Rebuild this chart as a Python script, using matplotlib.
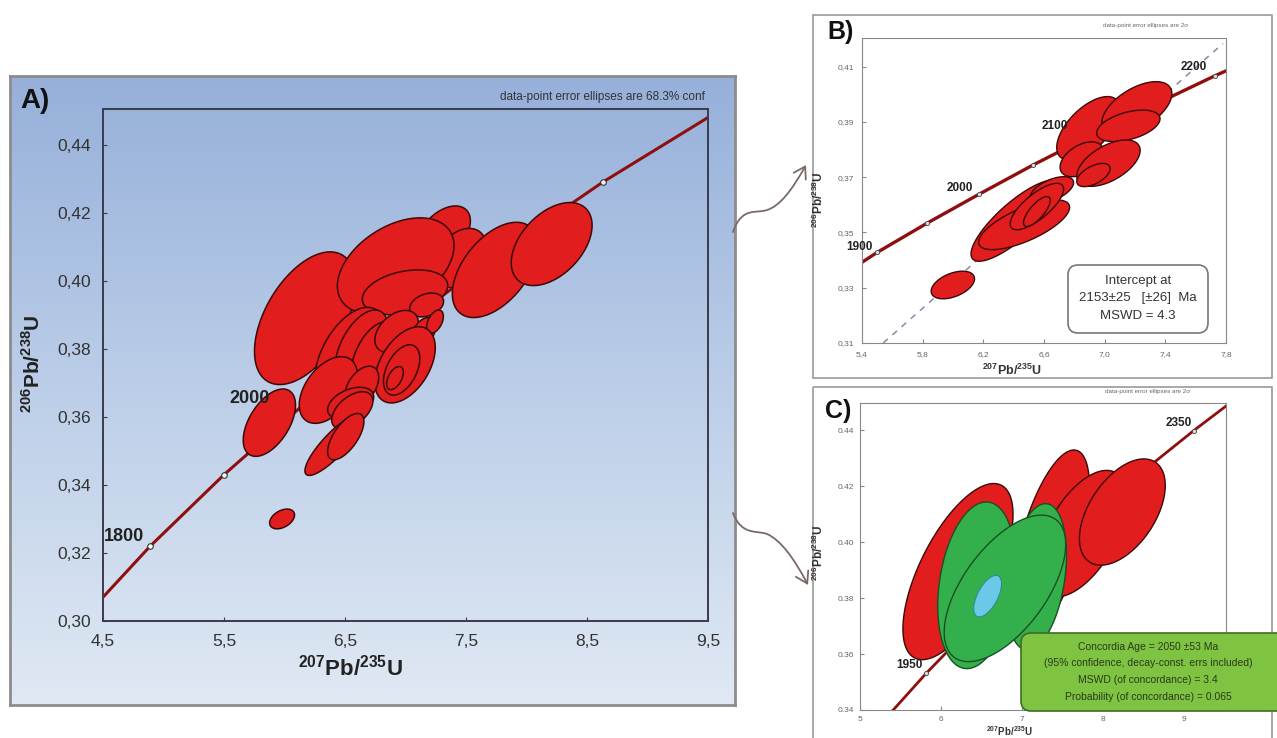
import numpy as np
import matplotlib
import matplotlib.pyplot as plt
from matplotlib.colors import LinearSegmentedColormap
from matplotlib.patches import Rectangle, FancyBboxPatch, FancyArrowPatch
from matplotlib.path import Path
from matplotlib.transforms import Affine2D

plt.rcParams["font.family"] = ["Liberation Sans", "DejaVu Sans"]
plt.rcParams["mathtext.fontset"] = "custom"
plt.rcParams["mathtext.rm"] = "Liberation Sans"
plt.rcParams["mathtext.bf"] = "Liberation Sans:bold"

W, H = 1277, 738

# ---------------- panel A data ----------------
a_xticks = [4.5, 5.5, 6.5, 7.5, 8.5, 9.5]
a_xticklabels = ["4,5", "5,5", "6,5", "7,5", "8,5", "9,5"]
a_yticks = [0.30, 0.32, 0.34, 0.36, 0.38, 0.40, 0.42, 0.44]
a_yticklabels = ["0,30", "0,32", "0,34", "0,36", "0,38", "0,40", "0,42", "0,44"]

a_conc_x = [4.5, 4.89, 5.50, 6.17, 6.91, 7.73, 8.63, 9.5]
a_conc_y = [0.307, 0.322, 0.343, 0.364, 0.385, 0.407, 0.429, 0.448]
a_tick_x = [4.89, 5.50, 8.63]
a_tick_y = [0.322, 0.343, 0.429]
a_age_labels = ["1800", "2000"]
a_age_x = [4.84, 5.88]
a_age_y = [0.3247, 0.3653]

# ellipses: centre, half-extent, error correlation (drawing order)
a_x = [6.169, 7.313, 7.450, 6.919, 7.740, 8.208, 6.996, 7.175,
       6.541, 6.638, 6.750, 6.927, 7.147, 7.244, 6.996, 6.968, 6.913,
       6.362, 6.638, 6.547, 6.560, 6.409, 6.506, 5.875, 5.980]
a_xe = [0.417, 0.223, 0.220, 0.482, 0.353, 0.334, 0.353, 0.140,
        0.290, 0.220, 0.200, 0.180, 0.100, 0.069, 0.250, 0.150, 0.069,
        0.240, 0.140, 0.190, 0.170, 0.240, 0.150, 0.216, 0.103]
a_y = [0.3890, 0.4140, 0.4067, 0.4044, 0.4032, 0.4108, 0.3966, 0.3929,
       0.3782, 0.3802, 0.3775, 0.3851, 0.3846, 0.3880, 0.3753, 0.3738, 0.3714,
       0.3679, 0.3689, 0.3640, 0.3619, 0.3518, 0.3542, 0.3583, 0.3300]
a_ye = [0.0195, 0.0080, 0.0087, 0.0141, 0.0140, 0.0122, 0.0066, 0.0035,
        0.0140, 0.0112, 0.0105, 0.0062, 0.0046, 0.0034, 0.0112, 0.0074, 0.0034,
        0.0098, 0.0060, 0.0047, 0.0055, 0.0090, 0.0068, 0.0099, 0.0029]
a_rho = [0.50, 0.45, 0.35, 0.42, 0.50, 0.45, 0.30, 0.30,
         0.50, 0.50, 0.45, 0.40, 0.40, 0.45, 0.45, 0.45, 0.50,
         0.45, 0.45, 0.40, 0.50, 0.85, 0.65, 0.52, 0.40]

# ---------------- panel B data ----------------
b_xticks = [5.4, 5.8, 6.2, 6.6, 7.0, 7.4, 7.8]
b_xticklabels = ["5,4", "5,8", "6,2", "6,6", "7,0", "7,4", "7,8"]
b_yticks = [0.31, 0.33, 0.35, 0.37, 0.39, 0.41]
b_yticklabels = ["0,31", "0,33", "0,35", "0,37", "0,39", "0,41"]

b_conc_x = [5.40, 5.50, 5.83, 6.17, 6.53, 6.91, 7.31, 7.73, 7.80]
b_conc_y = [0.3392, 0.3428, 0.3534, 0.3638, 0.3745, 0.3851, 0.3958, 0.4068, 0.4085]
b_tick_x = [5.50, 5.83, 6.17, 6.53, 7.73]
b_tick_y = [0.3428, 0.3534, 0.3638, 0.3745, 0.4068]
b_age_labels = ["1900", "2000", "2100", "2200"]
b_age_x = [5.468, 6.133, 6.759, 7.675]
b_age_y = [0.3448, 0.3661, 0.3886, 0.4099]
b_disc_x = [5.54, 7.78]
b_disc_y = [0.310, 0.4184]

b_x = [5.999, 6.893, 7.212, 7.156, 6.849, 7.025, 6.926,
       6.415, 6.469, 6.652, 6.553, 6.553]
b_xe = [0.143, 0.209, 0.231, 0.209, 0.143, 0.209, 0.110,
        0.296, 0.300, 0.143, 0.176, 0.088]
b_y = [0.3310, 0.3877, 0.3950, 0.3886, 0.3765, 0.3751, 0.3708,
       0.3543, 0.3528, 0.3654, 0.3594, 0.3576]
b_ye = [0.0050, 0.0115, 0.0096, 0.0057, 0.0063, 0.0084, 0.0042,
        0.0147, 0.0090, 0.0048, 0.0084, 0.0054]
b_rho = [0.45, 0.60, 0.55, 0.45, 0.45, 0.55, 0.55,
         0.82, 0.70, 0.55, 0.75, 0.75]

# ---------------- panel C data ----------------
c_xticks = [5, 6, 7, 8, 9]
c_xticklabels = ["5", "6", "7", "8", "9"]
c_yticks = [0.34, 0.36, 0.38, 0.40, 0.42, 0.44]
c_yticklabels = ["0.34", "0.36", "0.38", "0.40", "0.42", "0.44"]

c_conc_x = [5.41, 5.82, 6.53, 7.31, 8.17, 9.12, 9.52]
c_conc_y = [0.340, 0.3532, 0.3744, 0.3959, 0.4178, 0.4399, 0.4487]
c_tick_x = [5.82, 9.12]
c_tick_y = [0.3532, 0.4399]
c_age_labels = ["1950", "2350"]
c_age_x = [5.778, 9.10]
c_age_y = [0.3561, 0.4425]

c_red_x = [6.210, 7.354, 7.740, 8.240]
c_red_xe = [0.680, 0.480, 0.556, 0.530]
c_red_y = [0.3895, 0.3995, 0.4031, 0.4108]
c_red_ye = [0.0315, 0.0335, 0.0226, 0.0190]
c_red_rho = [0.65, 0.60, 0.55, 0.50]

c_green_x = [6.44, 7.18, 6.79]
c_green_xe = [0.48, 0.37, 0.75]
c_green_y = [0.3846, 0.3876, 0.3835]
c_green_ye = [0.0298, 0.0262, 0.0262]
c_green_rho = [0.25, 0.30, 0.60]

c_age_ell = [6.576, 0.171, 0.3807, 0.0074, 0.60]

RED = "#e11d1d"
RED_EDGE = "#3d0808"
CONC = "#8e0f0f"

fig = plt.figure(figsize=(W / 100, H / 100), dpi=100)
pix = Affine2D().scale(1 / W, -1 / H).translate(0, 1) + fig.transFigure


def px_axes(left, top, right, bottom, **kw):
    return fig.add_axes([left / W, 1 - bottom / H, (right - left) / W, (bottom - top) / H], **kw)


def ftext(x, y, s, **kw):
    return fig.text(x / W, 1 - y / H, s, **kw)


def draw_ellipses(ax, xs, xe, ys, ye, rho, face, edge, lw=1.0, z=3):
    t = np.linspace(0, 2 * np.pi, 160)
    for x0, ex, y0, ey, r in zip(xs, xe, ys, ye, rho):
        px = x0 + ex * np.cos(t)
        py = y0 + ey * (r * np.cos(t) + np.sqrt(1 - r * r) * np.sin(t))
        ax.fill(px, py, facecolor=face, edgecolor=edge, lw=lw, zorder=z)


def style_axes(ax, xt, xtl, yt, ytl, size, color, pad, spine):
    ax.set_xticks(xt)
    ax.set_xticklabels(xtl)
    ax.set_yticks(yt)
    ax.set_yticklabels(ytl)
    ax.tick_params(direction="in", length=3, labelsize=size, labelcolor=color,
                   color=spine, pad=pad)
    for s in ax.spines.values():
        s.set_color(spine)


lab206 = r"$^{\mathbf{206}}\mathbf{Pb/}^{\mathbf{238}}\mathbf{U}$"
lab207 = r"$^{\mathbf{207}}\mathbf{Pb/}^{\mathbf{235}}\mathbf{U}$"

# ---------------- panel A ----------------
bg = px_axes(10, 76, 735, 705)
grad = np.linspace(0, 1, 256)[:, None]
cmap = LinearSegmentedColormap.from_list("pan", ["#96b0da", "#bccee8", "#e0e9f4"])
bg.imshow(grad, aspect="auto", cmap=cmap, extent=[0, 1, 0, 1])
bg.set_xticks([])
bg.set_yticks([])
for s in bg.spines.values():
    s.set_color("#8c8c8c")
    s.set_linewidth(2)

axA = px_axes(103, 109, 708, 621)
axA.set_facecolor("none")
axA.set_xlim(4.5, 9.5)
axA.set_ylim(0.30, 0.4505)
style_axes(axA, a_xticks, a_xticklabels, a_yticks, a_yticklabels, 12.5, "#333333", 9, "#3a3a4a")
for s in axA.spines.values():
    s.set_linewidth(1.4)
axA.plot(a_conc_x, a_conc_y, color=CONC, lw=2.2, zorder=2)
axA.plot(a_tick_x, a_tick_y, "o", ms=4, mfc="white", mec="#333333", mew=0.8, zorder=2)
draw_ellipses(axA, a_x, a_xe, a_y, a_ye, a_rho, RED, RED_EDGE, lw=1.1)
for s, x, y in zip(a_age_labels, a_age_x, a_age_y):
    axA.text(x, y, s, ha="right", va="center", fontsize=13, fontweight="bold",
             color="#222222", zorder=5)

ftext(20, 101, "A)", fontsize=20, fontweight="bold", va="center", ha="left", color="#111111")
ftext(705, 97, "data-point error ellipses are 68.3% conf", fontsize=8.5, ha="right",
      va="center", color="#333333")
ftext(33, 364, lab206, fontsize=15, rotation=90, ha="center", va="center", color="#222222")
ftext(350, 668, lab207, fontsize=16, ha="center", va="center", color="#222222")

# ---------------- panel B ----------------
fig.patches.append(Rectangle((813, 15), 459, 363, transform=pix, fill=False,
                             ec="#9a9a9a", lw=1.2))
axB = px_axes(862, 38, 1226, 343)
axB.set_xlim(5.4, 7.8)
axB.set_ylim(0.31, 0.4204)
style_axes(axB, b_xticks, b_xticklabels, b_yticks, b_yticklabels, 6, "#666666", 6, "#888888")
axB.plot(b_disc_x, b_disc_y, color="#8a86a8", lw=1.1, ls=(0, (4, 4)), zorder=1)
axB.plot(b_conc_x, b_conc_y, color=CONC, lw=2.4, zorder=2)
axB.plot(b_tick_x, b_tick_y, "o", ms=3, mfc="#dddddd", mec="#444444", mew=0.6, zorder=2)
draw_ellipses(axB, b_x, b_xe, b_y, b_ye, b_rho, RED, RED_EDGE, lw=1.0)
for s, x, y in zip(b_age_labels, b_age_x, b_age_y):
    axB.text(x, y, s, ha="right", va="center", fontsize=8.5, fontweight="bold",
             color="#222222", zorder=5, clip_on=False)

ftext(827, 32, "B)", fontsize=18, fontweight="bold", va="center", ha="left", color="#111111")
ftext(1146, 25, "data-point error ellipses are 2\u03c3", fontsize=4.5, ha="center",
      va="center", color="#666666")
ftext(818, 200, lab206, fontsize=8.5, rotation=90, ha="center", va="center", color="#333333")
ftext(1012, 370, lab207, fontsize=9, ha="center", va="center", color="#333333")

fig.patches.append(FancyBboxPatch((1068, 265), 140, 68, transform=pix,
                                  boxstyle="round,pad=0,rounding_size=10",
                                  fc="white", ec="#777777", lw=1.2, zorder=5))
for s, y in zip(["Intercept at", "2153\u00b125   [\u00b126]  Ma", "MSWD = 4.3"], [281, 298, 316]):
    ftext(1138, y, s, fontsize=9.5, ha="center", va="center", color="#333333", zorder=6)

# ---------------- panel C ----------------
fig.patches.append(Rectangle((813, 387), 459, 360, transform=pix, fill=False,
                             ec="#9a9a9a", lw=1.2))
axC = px_axes(860, 403, 1226, 710)
axC.set_xlim(5, 9.52)
axC.set_ylim(0.34, 0.4498)
style_axes(axC, c_xticks, c_xticklabels, c_yticks, c_yticklabels, 6, "#666666", 4, "#888888")
axC.plot(c_conc_x, c_conc_y, color=CONC, lw=2.0, zorder=2)
axC.plot(c_tick_x, c_tick_y, "o", ms=3, mfc="#dddddd", mec="#444444", mew=0.6, zorder=2)
draw_ellipses(axC, c_red_x, c_red_xe, c_red_y, c_red_ye, c_red_rho, RED, RED_EDGE, lw=1.0)
draw_ellipses(axC, c_green_x, c_green_xe, c_green_y, c_green_ye, c_green_rho,
              "#33b04c", "#1a4f24", lw=1.0, z=4)
draw_ellipses(axC, [c_age_ell[0]], [c_age_ell[1]], [c_age_ell[2]], [c_age_ell[3]],
              [c_age_ell[4]], "#6cc8e8", "#2f7f9a", lw=0.6, z=5)
for s, x, y in zip(c_age_labels, c_age_x, c_age_y):
    axC.text(x, y, s, ha="right", va="center", fontsize=8.5, fontweight="bold",
             color="#222222", zorder=6, clip_on=False)

ftext(825, 411, "C)", fontsize=18, fontweight="bold", va="center", ha="left", color="#111111")
ftext(1148, 392, "data-point error ellipses are 2\u03c3", fontsize=4.5, ha="center",
      va="center", color="#666666")
ftext(818, 553, lab206, fontsize=8.5, rotation=90, ha="center", va="center", color="#333333")
ftext(1010, 731, lab207, fontsize=7, ha="center", va="center", color="#333333")

fig.patches.append(FancyBboxPatch((1021, 633), 270, 78, transform=pix,
                                  boxstyle="round,pad=0,rounding_size=10",
                                  fc="#7fc343", ec="#3f6d22", lw=1.2, zorder=7))
c_box = ["Concordia Age = 2050 \u00b153 Ma",
         "(95% confidence, decay-const. errs included)",
         "MSWD (of concordance) = 3.4",
         "Probability (of concordance) = 0.065"]
for s, y in zip(c_box, [647, 663, 680, 697]):
    ftext(1148, y, s, fontsize=7.5, ha="center", va="center", color="#2a3a1a", zorder=8)

# ---------------- connecting arrows ----------------
up = Path([(733, 232), (742, 206), (756, 214), (767, 210),
           (780, 206), (792, 190), (806, 165)],
          [Path.MOVETO, Path.CURVE4, Path.CURVE4, Path.CURVE4,
           Path.CURVE4, Path.CURVE4, Path.CURVE4])
down = Path([(733, 513), (742, 536), (756, 530), (767, 534),
             (781, 540), (795, 560), (808, 585)],
            [Path.MOVETO, Path.CURVE4, Path.CURVE4, Path.CURVE4,
             Path.CURVE4, Path.CURVE4, Path.CURVE4])
for p in (up, down):
    fig.patches.append(FancyArrowPatch(path=p, transform=pix, arrowstyle="->,head_length=8,head_width=5",
                                       color="#7a6a66", lw=1.3))

fig.savefig("out.png", dpi=100)
